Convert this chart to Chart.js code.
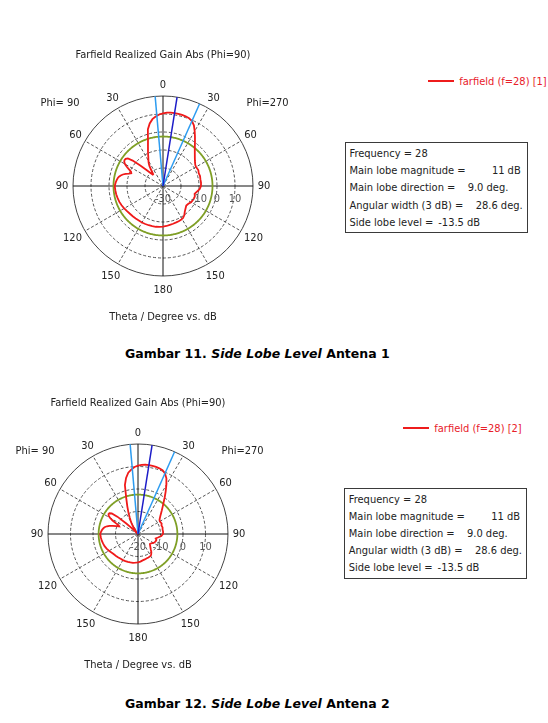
<!DOCTYPE html>
<html>
<head>
<meta charset="utf-8">
<script src="https://cdn.jsdelivr.net/npm/chart.js@4.4.1/dist/chart.umd.min.js"></script>
<style>
  body { margin: 0; width: 548px; height: 723px; background: #fff; position: relative; overflow: hidden;
         font-family: "DejaVu Sans Condensed", "Liberation Sans", sans-serif; }
  canvas { position: absolute; }
  .t { position: absolute; white-space: nowrap; font-size: 11px; line-height: 13px; color: #222; }
  .leg { color: #e8202a; }
  .legline { position: absolute; height: 2px; background: #ee1c1c; }
  .box { position: absolute; border: 1.5px solid #3a3a3a; box-sizing: border-box; }
  .cap { position: absolute; white-space: nowrap; font-size: 12.5px; line-height: 15px; font-weight: bold; color: #000;
         font-family: "DejaVu Sans", "Liberation Sans", sans-serif; }
</style>
</head>
<body>
<canvas id="polar1" width="300" height="300"></canvas>
<canvas id="polar2" width="300" height="300"></canvas>
<script>
// plot angle in degrees, clockwise from the top (right half = Phi=270 side, left half = Phi=90 side)
const plotAngle = [0, 3, 6, 9, 12, 15, 18, 21, 24, 27, 30, 33, 36, 39, 42, 45, 48, 51, 54, 57,
  60, 63, 66, 70, 75, 80, 85, 90, 95, 100, 104, 108, 112, 116, 120, 125, 130, 135, 140, 144,
  148, 152, 156, 160, 165, 170, 175, 180, 185, 190, 195, 200, 205, 210, 215, 220, 225, 230, 235, 240,
  245, 250, 255, 260, 265, 270, 274, 277, 280, 282, 284, 286, 288, 290, 292, 294, 296, 298, 300, 302,
  304, 306, 308, 310, 312, 314, 316, 318, 320, 322, 324, 326, 328, 330, 333, 336, 339, 342, 345, 348,
  351, 354, 357];
// realized gain, dB
const gainDb = [10.4, 10.8, 11.0, 11.0, 11.0, 10.9, 10.7, 10.4, 9.5, 7.8, 5.2, 2.6, 0.2, -1.9, -3.6, -5.0, -6.2, -7.2, -8.0, -8.6,
  -8.8, -8.7, -8.5, -8.9, -8.7, -8.9, -8.8, -8.9, -9.6, -11.0, -11.9, -11.4, -11.5, -11.7, -12.0, -12.8, -13.1, -12.3, -11.2, -9.9,
  -9.0, -8.7, -8.6, -8.5, -8.3, -8.1, -7.7, -7.4, -7.2, -7.0, -6.9, -6.8, -6.7, -6.6, -6.6, -6.4, -6.2, -6.0, -5.6, -5.1,
  -4.6, -4.2, -3.9, -3.6, -3.4, -3.2, -3.6, -4.0, -4.5, -5.0, -5.8, -6.8, -8.2, -9.8, -11.0, -10.6, -9.0, -7.2, -5.6, -4.6,
  -4.2, -4.3, -5.2, -8.0, -13.0, -17.0, -20.0, -21.5, -21.5, -20.5, -18.5, -16.5, -15.0, -13.8, -12.0, -9.5, -6.7, -3.0, 2.5, 5.5,
  7.6, 8.8, 9.8];

const frequency = 28;
const mainLobeMag = 11;        // dB
const mainLobeAngle = 9;       // deg
const angularWidth = 28.6;     // deg
const sideLobeLevel = -13.5;   // dB
const beamEdgeAngles = [355, 24];

const angleTickLabels = ['0', '30', '60', '90', '120', '150', '180', '150', '120', '90', '60', '30'];
const radialTicks1 = [-30, -10, 0, 10];
const radialTicks2 = [-20, -10, 0, 10];
const rMax = 20;
const rMin1 = -30;
const rMin2 = -20;

const FONT = '"DejaVu Sans Condensed", "Liberation Sans", sans-serif';
const RED = '#f01a1a', GREEN = '#7f9f26', LIGHT_BLUE = '#2d9cf0', DARK_BLUE = '#1c1cc8';

const thetaLabels = Array.from({ length: 360 }, (_, i) => i);

function onCircle(angles, values, lo) {
  const out = new Array(360).fill(null);
  angles.forEach((a, i) => { out[a] = Math.max(values[i], lo); });
  return out;
}
function ray(angle, lo, hi) {
  const out = new Array(360).fill(null);
  out[angle] = hi;
  out[(angle + 1) % 360] = lo;
  return out;
}

const polarText = {
  id: 'polarText',
  afterDraw(chart, args, opts) {
    const s = chart.scales.r, ctx = chart.ctx;
    const cx = s.xCenter, cy = s.yCenter, R = s.drawingArea;
    ctx.save();
    ctx.font = '11px ' + FONT;
    ctx.fillStyle = '#222';
    ctx.textBaseline = 'middle';
    ctx.textAlign = 'center';
    ctx.fillText('Farfield Realized Gain Abs (Phi=90)', cx, cy - 131);
    ctx.fillText('Theta / Degree vs. dB', cx, cy + 131);
    angleTickLabels.forEach((txt, k) => {
      const p = s.getPointPosition(k * 30, R + 11 + (txt.length === 3 ? 3.5 : 0));
      ctx.fillText(txt, p.x, p.y);
    });
    ctx.textAlign = 'left';
    ctx.fillText('Phi= 90', cx - 122.5, cy - 83.3);
    ctx.fillText('Phi=270', cx + 83.5, cy - 83.3);
    ctx.textAlign = 'center';
    ctx.fillStyle = '#555';
    opts.ticks.forEach(v => {
      ctx.fillText(String(v), cx + s.getDistanceFromCenterForValue(v), cy + 13.5);
    });
    ctx.restore();
  }
};

function makeChart(id, rMin, ticks, cx, cy) {
  const canvas = document.getElementById(id);
  const chart = new Chart(canvas, {
    type: 'radar',
    data: {
      labels: thetaLabels,
      datasets: [
        { data: ray(mainLobeAngle, rMin, rMax), borderColor: DARK_BLUE, borderWidth: 1.5, order: 0 },
        { data: ray(beamEdgeAngles[0], rMin, rMax), borderColor: LIGHT_BLUE, borderWidth: 1.5, order: 0 },
        { data: ray(beamEdgeAngles[1], rMin, rMax), borderColor: LIGHT_BLUE, borderWidth: 1.5, order: 0 },
        { data: onCircle(plotAngle, gainDb, rMin), borderColor: RED, borderWidth: 1.8, spanGaps: true, order: 1 },
        { data: thetaLabels.map(() => mainLobeMag + sideLobeLevel), borderColor: GREEN, borderWidth: 1.8, order: 2 }
      ]
    },
    options: {
      responsive: false,
      animation: false,
      layout: { padding: 60 },
      elements: { point: { radius: 0, hitRadius: 0 }, line: { fill: false, tension: 0 } },
      plugins: { legend: { display: false }, tooltip: { enabled: false }, polarText: { ticks } },
      scales: {
        r: {
          min: rMin, max: rMax,
          ticks: { display: false, stepSize: 10 },
          pointLabels: { display: false },
          grid: {
            circular: true,
            color: c => (c.tick && c.tick.value === rMax) ? '#444' : '#555',
            lineWidth: 1
          },
          border: { dash: c => (c.tick && c.tick.value === rMax) ? [] : [3, 2] },
          angleLines: {
            color: c => c.index % 90 === 0 ? '#111' : '#555',
            lineWidth: c => c.index % 30 === 0 ? 1 : 0,
            borderDash: c => c.index % 90 === 0 ? [] : [3, 2]
          }
        }
      }
    },
    plugins: [polarText]
  });
  const s = chart.scales.r;
  canvas.style.left = (cx - s.xCenter) + 'px';
  canvas.style.top = (cy - s.yCenter) + 'px';
  return chart;
}

makeChart('polar1', rMin1, radialTicks1, 163, 186);
makeChart('polar2', rMin2, radialTicks2, 138, 534);

// legend, info box, caption
function put(html, x, y, cls, right) {
  const d = document.createElement('div');
  d.className = cls;
  d.innerHTML = html;
  d.style.left = x + 'px';
  d.style.top = (y - 6.5) + 'px';
  if (right) d.style.transform = 'translateX(-100%)';
  document.body.appendChild(d);
  return d;
}

const panels = [
  { legX: 428, legY: 81, legText: 'farfield (f=28) [1]', boxX: 345, boxY: 142, capY: 353.3, fig: 11, ant: 1 },
  { legX: 403, legY: 428, legText: 'farfield (f=28) [2]', boxX: 344.3, boxY: 487.7, capY: 703.3, fig: 12, ant: 2 }
];
const rowOffsets = [11.4, 28.7, 45.4, 63, 80.2];

panels.forEach(p => {
  const line = document.createElement('div');
  line.className = 'legline';
  line.style.left = p.legX + 'px';
  line.style.top = (p.legY - 1) + 'px';
  line.style.width = '26px';
  document.body.appendChild(line);
  put(p.legText, p.legX + 31.3, p.legY, 't leg');

  const box = document.createElement('div');
  box.className = 'box';
  box.style.left = p.boxX + 'px';
  box.style.top = p.boxY + 'px';
  box.style.width = '183px';
  box.style.height = '91px';
  document.body.appendChild(box);

  const x0 = p.boxX + 4.5;
  const y = rowOffsets.map(o => p.boxY + o);
  put('Frequency = ' + frequency, x0, y[0], 't');
  put('Main lobe magnitude =', x0, y[1], 't');
  put(mainLobeMag + ' dB', p.boxX + 175.7, y[1], 't', true);
  put('Main lobe direction =', x0, y[2], 't');
  put(mainLobeAngle.toFixed(1) + ' deg.', p.boxX + 122.7, y[2], 't');
  put('Angular width (3 dB) =', x0, y[3], 't');
  put(angularWidth.toFixed(1) + ' deg.', p.boxX + 130.7, y[3], 't');
  put('Side lobe level =', x0, y[4], 't');
  put(sideLobeLevel.toFixed(1) + ' dB', p.boxX + 93.3, y[4], 't');

  const c = put('Gambar ' + p.fig + '. <i>Side Lobe Level</i> Antena ' + p.ant, 125, p.capY, 'cap');
  c.style.top = (p.capY - 7.5) + 'px';
});
</script>
</body>
</html>
